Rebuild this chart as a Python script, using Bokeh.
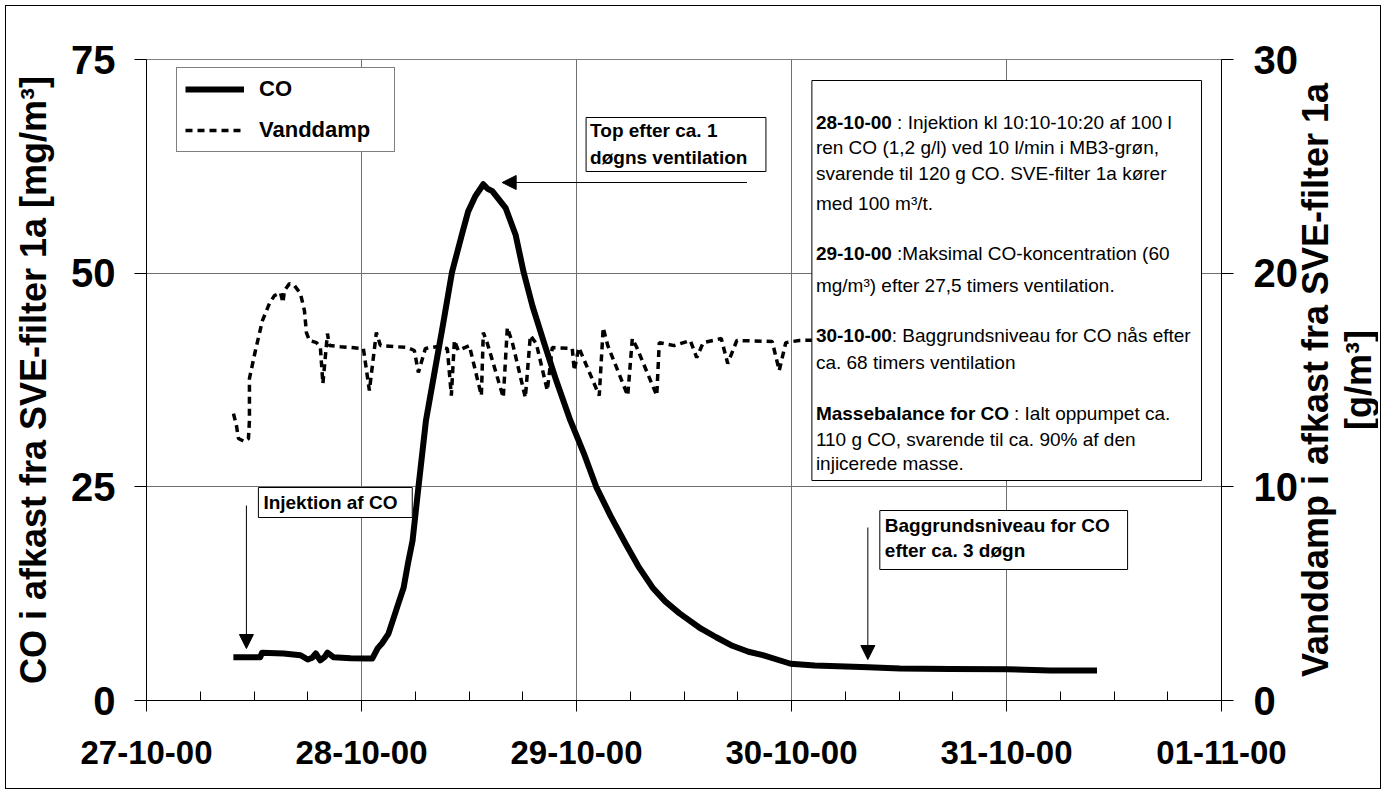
import math
from bokeh.plotting import figure
from bokeh.layouts import row
from bokeh.models import (Range1d, LinearAxis, FixedTicker, Label, BoxAnnotation,
                          Arrow, NormalHead, Legend, LegendItem, Title)
from bokeh.embed import file_html
from bokeh.resources import INLINE

# ---------------- data (hours after 27-10-00 00:00) ----------------
co_hours = [9.7, 12.7, 12.9, 15.3, 17.2, 18.0, 18.5, 18.9, 19.4, 19.9, 20.2, 20.9,
            22.8, 24.7, 25.2, 25.8, 26.3, 27.0, 27.6, 28.1, 28.7, 29.2, 29.7, 30.35,
            31.2, 32.1, 33.1, 34.1, 35.2, 35.9, 36.7, 37.6, 38.05, 38.6, 40.1, 41.2,
            42.1, 43.1, 44.3, 45.75, 47.3, 48.9, 50.2, 51.8, 53.45, 54.9, 56.5, 57.9,
            59.5, 61.9, 63.6, 65.4, 67.2, 68.8, 71.9, 74.6, 77.2, 80.6, 84.1, 89.7,
            96.1, 100.9, 106.1]
co_mg = [5.07, 5.07, 5.6, 5.5, 5.3, 4.8, 5.0, 5.5, 4.7, 5.1, 5.6, 5.05,
         4.95, 4.9, 4.9, 6.1, 6.7, 7.8, 9.7, 11.3, 13.2, 16.1, 18.7, 24.9,
         32.8, 38.1, 44.0, 50.1, 54.5, 57.2, 59.0, 60.4, 59.9, 59.6, 57.6, 54.5,
         50.1, 46.1, 42.1, 37.4, 32.8, 28.7, 25.0, 21.6, 18.4, 15.7, 13.2, 11.6,
         10.2, 8.4, 7.4, 6.4, 5.7, 5.3, 4.3, 4.1, 4.0, 3.9, 3.75, 3.7,
         3.65, 3.5, 3.5]

vd_hours = [9.71, 10.04, 10.26, 10.93, 11.38, 11.49, 11.49, 12.16, 12.94, 13.72, 14.28,
            14.95, 15.23, 15.40, 15.96, 16.51, 17.18, 17.63, 17.85, 18.19, 18.97, 19.41,
            19.69, 20.20, 20.42, 21.65, 24.21, 24.88, 25.66, 26.11, 29.12, 29.90, 30.35,
            31.13, 32.36, 33.58, 34.03, 34.37, 34.81, 36.04, 37.38, 37.60, 38.05, 39.83,
            40.28, 40.84, 42.29, 42.85, 43.51, 44.74, 45.30, 47.53, 47.75, 48.26, 50.54,
            50.98, 51.49, 53.72, 54.23, 54.73, 56.96, 57.24, 58.91, 60.70, 61.42, 62.15,
            64.16, 64.88, 65.90, 69.85, 70.63, 71.36, 72.86, 77.21]
vd_g = [13.43, 12.87, 12.26, 12.12, 12.26, 13.10, 15.07, 16.38, 17.78, 18.58, 18.95,
        19.09, 18.62, 19.19, 19.51, 19.42, 19.05, 18.25, 17.22, 16.85, 16.75, 16.52,
        14.83, 17.17, 16.61, 16.56, 16.47, 14.51, 17.22, 16.61, 16.52, 16.38, 15.35,
        16.47, 16.56, 16.47, 14.27, 16.85, 16.38, 16.61, 14.27, 17.22, 16.71, 14.18,
        17.45, 16.75, 14.18, 17.08, 16.71, 14.51, 16.52, 16.47, 15.44, 16.52, 14.27,
        17.45, 16.61, 14.27, 16.94, 16.52, 14.27, 16.75, 16.61, 16.85, 16.05, 16.75,
        16.94, 15.77, 16.85, 16.80, 15.44, 16.75, 16.85, 16.89]

day_ticks = [0, 24, 48, 72, 96, 120]
day_labels = ["27-10-00", "28-10-00", "29-10-00", "30-10-00", "31-10-00", "01-11-00"]
minor_ticks = [6, 12, 18, 30, 36, 42, 54, 60, 66, 78, 84, 90, 102, 108, 114]
co_ticks = [0, 25, 50, 75]
vd_ticks = [0, 10, 20, 30]

# ---------------- layout ----------------
W, H = 1386, 794
W2 = 86                      # strip holding the right-hand axis title
FL, FR, FT, FB = 146, 1222, 59, 700
FONT = "Liberation Sans"
NB = "\u00a0"


def hx(px):
    return (px - FL) / (FR - FL) * 120.0


def vy(py):
    return (FB - py) / (FB - FT) * 75.0


p = figure(width=W - W2, height=H, output_backend="svg", toolbar_location=None, title=None,
           x_range=Range1d(0, 120), y_range=Range1d(0, 75),
           min_border_left=FL, min_border_right=W - W2 - FR, min_border_top=FT,
           min_border_bottom=H - FB)
p.extra_y_ranges = {"vd": Range1d(0, 30)}
p.background_fill_color = "white"
p.border_fill_alpha = 0.0
p.outline_line_color = "#808080"
p.outline_line_width = 1

# x axis
xa = p.xaxis[0]
xa.ticker = FixedTicker(ticks=day_ticks, minor_ticks=minor_ticks)
xa.major_label_overrides = {t: l for t, l in zip(day_ticks, day_labels)}
xa.major_label_text_font = FONT
xa.major_label_text_font_style = "bold"
xa.major_label_text_font_size = "33px"
xa.major_label_text_color = "black"
xa.major_label_standoff = 29
xa.major_tick_in = 0
xa.major_tick_out = 11
xa.minor_tick_in = 9
xa.minor_tick_out = 0
xa.axis_line_color = "black"
xa.major_tick_line_color = "black"
xa.minor_tick_line_color = "black"

# left axis
ya = p.yaxis[0]
ya.ticker = FixedTicker(ticks=co_ticks, minor_ticks=[])
ya.major_label_text_font = FONT
ya.major_label_text_font_style = "bold"
ya.major_label_text_font_size = "40px"
ya.major_label_text_color = "black"
ya.major_label_standoff = 19
ya.major_tick_in = 0
ya.major_tick_out = 12
ya.minor_tick_line_color = None
ya.axis_line_color = "black"
ya.major_tick_line_color = "black"
ya.axis_label = "CO i afkast fra SVE-filter 1a [mg/m³]"
ya.axis_label_text_font = FONT
ya.axis_label_text_font_style = "bold"
ya.axis_label_text_font_size = "36px"
ya.axis_label_text_color = "black"
ya.axis_label_standoff = 14

# right axis
ra = LinearAxis(y_range_name="vd", ticker=FixedTicker(ticks=vd_ticks, minor_ticks=[]))
ra.major_label_text_font = FONT
ra.major_label_text_font_style = "bold"
ra.major_label_text_font_size = "40px"
ra.major_label_text_color = "black"
ra.major_label_standoff = 20
ra.major_tick_in = 0
ra.major_tick_out = 12
ra.minor_tick_line_color = None
ra.axis_line_color = "black"
ra.major_tick_line_color = "black"
p.add_layout(ra, "right")

for g in (p.xgrid[0], p.ygrid[0]):
    g.grid_line_color = "#707070"
    g.grid_line_width = 1

# series
r_vd = p.line(vd_hours, vd_g, y_range_name="vd", line_color="black", line_width=3.5,
              line_dash="7 5")
r_co = p.line(co_hours, co_mg, line_color="black", line_width=6, line_join="round")

# legend
legend = Legend(items=[LegendItem(label="CO", renderers=[r_co]),
                       LegendItem(label="Vanddamp", renderers=[r_vd])],
                location=(30, 548), margin=0, padding=8, spacing=15,
                glyph_width=59, glyph_height=26, label_height=26, label_width=127,
                label_standoff=15, border_line_color="black", border_line_width=1,
                background_fill_color="white", background_fill_alpha=1.0,
                label_text_font=FONT, label_text_font_style="bold",
                label_text_font_size="22px", label_text_color="black")
p.add_layout(legend, "center")


def box(x0, y0, x1, y1):
    p.add_layout(BoxAnnotation(left=hx(x0), right=hx(x1), top=vy(y0), bottom=vy(y1),
                               fill_color="white", fill_alpha=1.0,
                               line_color="black", line_width=1, line_alpha=1.0))


def txt(x, y, s, bold=False, size="19px"):
    p.add_layout(Label(x=hx(x), y=vy(y - 7), text=s, text_font=FONT,
                       text_font_size=size,
                       text_font_style="bold" if bold else "normal",
                       text_color="black", text_baseline="alphabetic",
                       text_align="left"))


def arrow(x0, y0, x1, y1):
    p.add_layout(Arrow(end=NormalHead(size=14, fill_color="black", line_color="black"),
                       x_start=hx(x0), y_start=vy(y0), x_end=hx(x1), y_end=vy(y1),
                       line_color="black", line_width=1))


# annotation boxes
box(258, 487, 412, 517)
txt(263, 509, "Injektion af CO", bold=True)
arrow(246, 505, 246, 648)

box(586, 117, 766, 171)
txt(590, 137, "Top efter ca. 1", bold=True)
txt(590, 163.5, "døgns ventilation", bold=True)
arrow(747, 182, 502, 182)

box(880, 510, 1128, 569)
txt(885, 532, "Baggrundsniveau for CO", bold=True)
txt(885, 557, "efter ca. 3 døgn", bold=True)
arrow(868, 527, 868, 659)

box(812, 80, 1202, 480)
TX = 816
txt(TX, 128.5, "28-10-00", bold=True)
txt(TX + 76, 128.5, NB + ": Injektion kl 10:10-10:20 af 100 l")
txt(TX, 153.5, "ren CO (1,2 g/l) ved 10 l/min i MB3-grøn,")
txt(TX, 179.5, "svarende til 120 g CO. SVE-filter 1a kører")
txt(TX, 209.5, "med 100 m³/t.")
txt(TX, 260, "29-10-00", bold=True)
txt(TX + 76, 260, NB + ":Maksimal CO-koncentration (60")
txt(TX, 292, "mg/m³) efter 27,5 timers ventilation.")
txt(TX, 342, "30-10-00", bold=True)
txt(TX + 76, 342, ": Baggrundsniveau for CO nås efter")
txt(TX, 368.5, "ca. 68 timers ventilation")
txt(TX, 420, "Massebalance for CO", bold=True)
txt(TX + 193, 420, NB + ": Ialt oppumpet ca.")
txt(TX, 445.5, "110 g CO, svarende til ca. 90% af den")
txt(TX, 470, "injicerede masse.")

# ---- right-hand axis title (reads bottom-to-top), held in a narrow strip ----
p2 = figure(width=W2, height=H, output_backend="svg", toolbar_location=None, title=None,
            x_axis_type=None, y_axis_type=None, x_range=Range1d(0, 1), y_range=Range1d(0, 1),
            min_border_left=0, min_border_right=0, min_border_top=FT,
            min_border_bottom=H - FB)
p2.outline_line_color = None
p2.background_fill_alpha = 0.0
p2.border_fill_alpha = 0.0
p2.styles = {"transform": "translateX(-8px)"}
p2.add_layout(Title(text="[g/m³]", align="center", offset=55, standoff=0,
                    text_font=FONT, text_font_size="36px", text_font_style="bold",
                    text_color="black"), "left")
p2.add_layout(Title(text="Vanddamp i afkast fra SVE-filter 1a", align="center",
                    offset=12, standoff=0, text_font=FONT, text_font_size="36px",
                    text_font_style="bold", text_color="black"), "left")

layout = row(p, p2, spacing=0)
layout.styles = {"background-color": "white",
                 "box-shadow": "inset 0 0 0 5px white, inset 0 0 0 6px black"}

open("out.html", "w").write(file_html(layout, INLINE))
